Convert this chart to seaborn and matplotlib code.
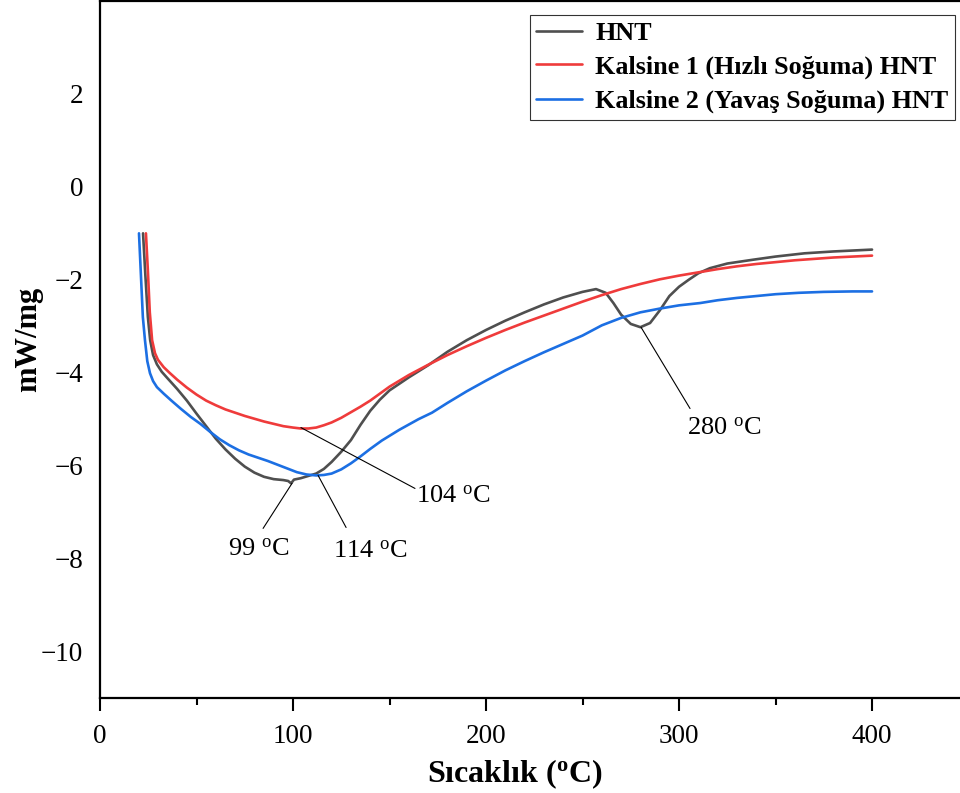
import matplotlib; matplotlib.use("Agg")
import numpy as np
import pandas as pd
import matplotlib.pyplot as plt
import seaborn as sns
from matplotlib.ticker import MultipleLocator

# DSC curves (temperature in degC, heat flow in mW/mg)
hnt_t = [22.3, 23.5, 24.8, 26.0, 27.5, 29.5, 32, 35, 40, 45, 50, 55, 60, 65, 70, 75, 80, 85,
         90, 95, 97.5, 99, 100.5, 104, 108, 112, 116, 120, 125, 130, 135, 140, 145, 150, 160,
         170, 180, 190, 200, 210, 220, 230, 240, 250, 257, 262, 266, 270, 275, 280, 285, 290,
         295, 300, 305, 310, 316, 325, 338, 350, 365, 380, 400]
hnt_v = [-1.0, -1.9, -2.8, -3.3, -3.62, -3.82, -3.98, -4.12, -4.35, -4.6, -4.88, -5.15, -5.42,
         -5.65, -5.85, -6.02, -6.15, -6.24, -6.29, -6.31, -6.33, -6.38, -6.3, -6.27, -6.22,
         -6.17, -6.07, -5.92, -5.7, -5.45, -5.12, -4.82, -4.58, -4.38, -4.1, -3.84, -3.55,
         -3.3, -3.08, -2.88, -2.7, -2.53, -2.38, -2.26, -2.2, -2.28, -2.5, -2.75, -2.95, -3.02,
         -2.93, -2.66, -2.35, -2.15, -2.0, -1.86, -1.75, -1.65, -1.57, -1.5, -1.43, -1.39, -1.35]

k1_t = [23.8, 24.8, 25.8, 27, 28.5, 30, 33, 36, 40, 45, 50, 55, 60, 65, 70, 75, 80, 85, 90, 95,
        100, 104, 108, 112, 116, 120, 125, 130, 135, 140, 145, 150, 160, 170, 180, 190, 200,
        210, 220, 230, 240, 250, 260, 270, 280, 290, 300, 310, 320, 330, 340, 350, 360, 370,
        380, 390, 400]
k1_v = [-1.0, -1.8, -2.7, -3.3, -3.58, -3.72, -3.88, -4.0, -4.15, -4.32, -4.47, -4.6, -4.7,
        -4.79, -4.86, -4.93, -4.99, -5.05, -5.1, -5.15, -5.18, -5.2, -5.2, -5.18, -5.13, -5.07,
        -4.97, -4.85, -4.73, -4.6, -4.45, -4.3, -4.05, -3.83, -3.62, -3.43, -3.25, -3.08, -2.92,
        -2.77, -2.62, -2.47, -2.33, -2.2, -2.09, -1.99, -1.91, -1.84, -1.77, -1.71, -1.66,
        -1.62, -1.58, -1.55, -1.52, -1.5, -1.48]

k2_t = [20.2, 21.2, 22.2, 23.3, 24.5, 25.9, 27.5, 29.5, 33, 37, 42, 47, 52, 57, 62, 67, 72, 77,
        82, 87, 92, 97, 102, 107, 112, 116, 120, 125, 130, 135, 140, 146, 155, 165, 172, 180,
        190, 200, 210, 220, 230, 240, 250, 260, 270, 280, 290, 300, 311, 320, 330, 340, 350,
        362, 375, 390, 400]
k2_v = [-1.0, -1.9, -2.8, -3.3, -3.75, -4.01, -4.18, -4.31, -4.45, -4.6, -4.78, -4.95, -5.1,
        -5.27, -5.43, -5.56, -5.67, -5.76, -5.83, -5.9, -5.98, -6.06, -6.14, -6.19, -6.21, -6.2,
        -6.17, -6.08, -5.95, -5.8, -5.64, -5.46, -5.23, -5.0, -4.86, -4.65, -4.4, -4.17, -3.95,
        -3.75, -3.56, -3.38, -3.2, -2.98, -2.82, -2.7, -2.62, -2.55, -2.5, -2.44, -2.39, -2.35,
        -2.31, -2.28, -2.26, -2.25, -2.25]

names = ["HNT", "Kalsine 1 (Hızlı Soğuma) HNT", "Kalsine 2 (Yavaş Soğuma) HNT"]
colors = ["#4f4f4f", "#ef3b3b", "#1c6fe3"]

# peak labels: text, peak point, leader end, text centre
peaks = ["99", "104", "114", "280"]
peak_xy = [(99.5, -6.38), (104.1, -5.18), (113.0, -6.21), (280.3, -3.02)]
lead_xy = [(84.5, -7.35), (163.2, -6.49), (127.5, -7.33), (305.7, -4.77)]
text_xy = [(81.9, -7.8), (183.0, -6.66), (139.9, -7.85), (323.3, -5.2)]

sns.set_theme(style="ticks")
plt.rcParams["font.family"] = ["Liberation Serif", "DejaVu Serif"]
plt.rcParams["mathtext.fontset"] = "custom"
plt.rcParams["mathtext.rm"] = "Liberation Serif"
plt.rcParams["mathtext.bf"] = "Liberation Serif:bold"
for k in ["text.color", "axes.labelcolor", "xtick.color", "ytick.color", "axes.edgecolor"]:
    plt.rcParams[k] = "black"

df = pd.concat([
    pd.DataFrame({"T": hnt_t, "v": hnt_v, "s": names[0]}),
    pd.DataFrame({"T": k1_t, "v": k1_v, "s": names[1]}),
    pd.DataFrame({"T": k2_t, "v": k2_v, "s": names[2]}),
])

fig = plt.figure(figsize=(9.6, 7.93), dpi=100)
ax = fig.add_axes([100 / 960, 95 / 793, 900 / 960, 697 / 793])
sns.lineplot(data=df, x="T", y="v", hue="s", hue_order=names, palette=colors,
             sort=False, estimator=None, lw=1.9, legend=False, ax=ax)

for lab, p, l, t in zip(peaks, peak_xy, lead_xy, text_xy):
    ax.annotate("", xy=p, xytext=l,
                arrowprops=dict(arrowstyle="-", lw=0.8, color="black", shrinkA=0, shrinkB=0))
    ax.text(t[0], t[1], lab + r" $\mathrm{^o}$C", fontsize=19, ha="center", va="center")

ax.set_xlim(0, 466.3)
ax.set_ylim(-11, 4)
ax.xaxis.set_major_locator(MultipleLocator(100))
ax.xaxis.set_minor_locator(MultipleLocator(50))
ax.set_yticks([-10, -8, -6, -4, -2, 0, 2])
ax.tick_params(axis="x", which="major", length=9, width=1.5, direction="out",
               labelsize=19.5, pad=10)
ax.tick_params(axis="x", which="minor", length=5, width=1.5, direction="out")
ax.tick_params(axis="y", length=0, labelsize=19.5, pad=12)
for sp in ax.spines.values():
    sp.set_linewidth(1.6)

ax.set_xlabel(r"Sıcaklık ($\mathbf{^o}$C)", fontsize=23, fontweight="bold")
ax.xaxis.set_label_coords((515 - 100) / 900, -0.085)
ax.set_ylabel("mW/mg", fontsize=22, fontweight="bold")
ax.yaxis.set_label_coords(-0.063, 0.514)

handles = ax.get_lines()[:3]
leg = ax.legend(handles, names, loc="upper right", bbox_to_anchor=(955 / 960, 1 - 15 / 793),
                bbox_transform=fig.transFigure, borderaxespad=0,
                prop={"weight": "bold", "size": 18.8}, handlelength=1.75, handletextpad=0.5,
                labelspacing=0.4, borderpad=0.25, fancybox=False, frameon=True)
leg.get_frame().set_edgecolor("black")
leg.get_frame().set_linewidth(0.8)

fig.savefig("out.png", dpi=100)
